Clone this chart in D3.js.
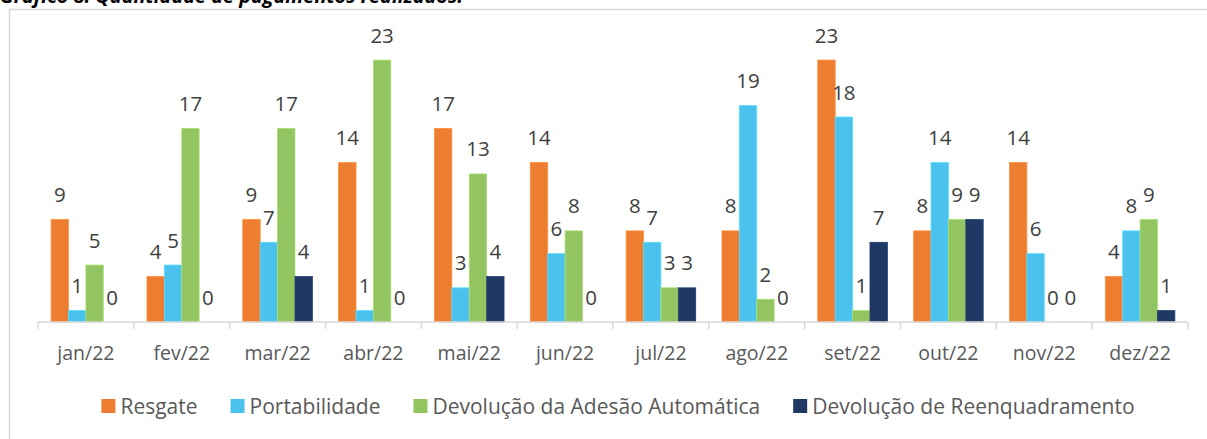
<!DOCTYPE html>
<html>
<head>
<meta charset="utf-8">
<script src="https://cdn.jsdelivr.net/npm/d3@7"></script>
<style>
  body { margin: 0; background: #fff; }
  text { font-family: "Open Sans", sans-serif; }
</style>
</head>
<body>
<div class="canvas"></div>
<script>
// chart data
const months = ['jan/22', 'fev/22', 'mar/22', 'abr/22', 'mai/22', 'jun/22',
                'jul/22', 'ago/22', 'set/22', 'out/22', 'nov/22', 'dez/22'];
const seriesNames = ['Resgate', 'Portabilidade', 'Devolução da Adesão Automática', 'Devolução de Reenquadramento'];
const resgate       = [9, 4, 9, 14, 17, 14, 8, 8, 23, 8, 14, 4];
const portabilidade = [1, 5, 7, 1, 3, 6, 7, 19, 18, 14, 6, 8];
const adesao        = [5, 17, 17, 23, 13, 8, 3, 2, 1, 9, 0, 9];
const reenquad      = [0, 0, 4, 0, 4, 0, 3, 0, 7, 9, 0, 1];
const colors = ['#ED7D31', '#4BC1EE', '#93C462', '#1F3864'];

const allSeries = [resgate, portabilidade, adesao, reenquad];

// dimensions
const dims = {width: 1207, height: 439};
const plot = {left: 38, right: 1188, top: 37.3, bottom: 322};

const svg = d3.select('.canvas')
    .append('svg')
    .attr('width', dims.width)
    .attr('height', dims.height);

// title, cut off at the top of the picture (as in the source page)
svg.append('text')
    .attr('x', 0)
    .attr('y', 3)
    .attr('font-size', 20)
    .attr('font-weight', 'bold')
    .attr('font-style', 'italic')
    .attr('fill', '#000')
    .attr('textLength', 463)
    .attr('lengthAdjust', 'spacingAndGlyphs')
    .text('Gráfico 8: Quantidade de pagamentos realizados.');

// chart border
svg.append('rect')
    .attr('x', 9.5)
    .attr('y', 9.5)
    .attr('width', 1210)
    .attr('height', 440)
    .attr('fill', 'none')
    .attr('stroke', '#d9d9d9')
    .attr('stroke-width', 1.5);

// scales
const x0 = d3.scaleBand()
    .domain(months)
    .range([plot.left, plot.right])
    .padding(0);

const bw = x0.bandwidth();
const x1 = d3.scaleBand()
    .domain(d3.range(seriesNames.length))
    .range([bw * 0.137, bw * (1 - 0.137)])
    .padding(0);

const y = d3.scaleLinear()
    .domain([0, 25])
    .range([plot.bottom, plot.top]);

// bars
const groups = svg.append('g')
    .selectAll('g')
    .data(months)
    .join('g')
    .attr('transform', d => `translate(${x0(d)}, 0)`);

const cells = groups.selectAll('g.cell')
    .data((m, i) => allSeries.map((s, k) => ({k, v: s[i]})))
    .join('g')
    .attr('class', 'cell');

cells.append('rect')
    .attr('x', d => x1(d.k))
    .attr('y', d => y(d.v))
    .attr('width', x1.bandwidth())
    .attr('height', d => y(0) - y(d.v))
    .attr('fill', d => colors[d.k])
    .attr('stroke', d => d3.color(colors[d.k]).brighter(0.4))
    .attr('stroke-width', d => d.v > 0 ? 0.8 : 0);

// data labels
cells.append('text')
    .attr('x', d => x1(d.k) + x1.bandwidth() / 2)
    .attr('y', d => y(d.v) - 17.5)
    .attr('text-anchor', 'middle')
    .attr('font-size', 20.5)
    .attr('fill', '#404040')
    .text(d => d.v);

// x axis
const xAxis = svg.append('g');
xAxis.append('line')
    .attr('x1', plot.left).attr('x2', plot.right)
    .attr('y1', plot.bottom).attr('y2', plot.bottom)
    .attr('stroke', '#d9d9d9')
    .attr('stroke-width', 1.5);

xAxis.selectAll('line.tick')
    .data(d3.range(months.length + 1))
    .join('line')
    .attr('class', 'tick')
    .attr('x1', i => plot.left + i * bw)
    .attr('x2', i => plot.left + i * bw)
    .attr('y1', plot.bottom)
    .attr('y2', plot.bottom + 7)
    .attr('stroke', '#d9d9d9')
    .attr('stroke-width', 1.5);

xAxis.selectAll('text')
    .data(months)
    .join('text')
    .attr('x', d => x0(d) + bw / 2)
    .attr('y', 360)
    .attr('text-anchor', 'middle')
    .attr('font-size', 19.5)
    .attr('fill', '#595959')
    .text(d => d);

// legend
const legend = svg.append('g');
const items = legend.selectAll('g')
    .data(seriesNames)
    .join('g');

items.append('rect')
    .attr('width', 14)
    .attr('height', 14)
    .attr('y', -7)
    .attr('fill', (d, i) => colors[i]);

items.append('text')
    .attr('x', 19)
    .attr('y', 7.5)
    .attr('font-size', 21)
    .attr('fill', '#595959')
    .text(d => d);

// place legend items side by side, centred
let offset = 0;
const gap = 33;
const widths = [];
items.each(function() {
    const w = 19 + d3.select(this).select('text').node().getComputedTextLength();
    widths.push(w);
});
const total = d3.sum(widths) + gap * (widths.length - 1);
const startX = 618 - total / 2;
items.attr('transform', (d, i) => {
    const tx = startX + offset;
    offset += widths[i] + gap;
    return `translate(${tx}, 406)`;
});
</script>
</body>
</html>
